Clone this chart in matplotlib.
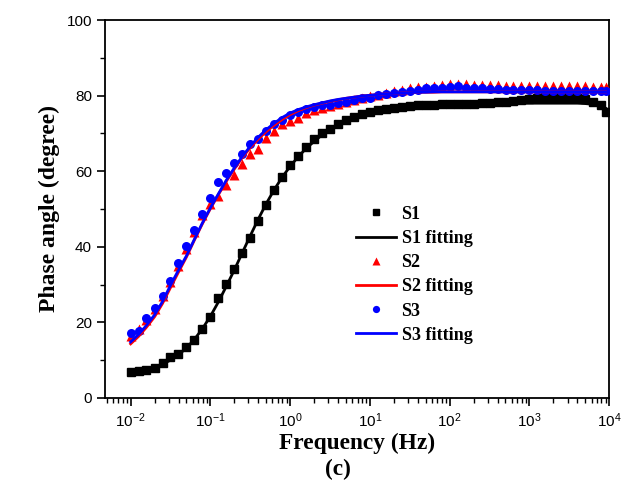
import numpy as np
import matplotlib
matplotlib.use("Agg")
import matplotlib.pyplot as plt
from matplotlib.ticker import LogLocator, MultipleLocator, NullFormatter, FixedLocator

plt.rcParams['mathtext.fontset'] = 'custom'
plt.rcParams['mathtext.rm'] = 'Liberation Sans'
plt.rcParams['mathtext.it'] = 'Liberation Sans:italic'
plt.rcParams['mathtext.bf'] = 'Liberation Sans:bold'

# Frequencies: 10 points per decade, 0.01 Hz to ~9 kHz
mantissa = [1.0, 1.26, 1.58, 2.0, 2.51, 3.16, 3.98, 5.01, 6.31, 7.94]
freq = [m * 10.0 ** e for e in range(-2, 4) for m in mantissa] + [9000.0]

xtick_vals = [1e-2, 1e-1, 1e0, 1e1, 1e2, 1e3, 1e4]
xtick_labels = ['$10^{-2}$', '$10^{-1}$', '$10^{0}$', '$10^{1}$', '$10^{2}$', '$10^{3}$', '$10^{4}$']

s1 = [6.9, 7.1, 7.4, 8.0, 9.2, 10.7, 11.7, 13.4, 15.3, 18.2,
      21.3, 26.5, 30.2, 34.1, 38.3, 42.4, 46.8, 51.1, 55.0, 58.4,
      61.6, 64.0, 66.5, 68.5, 70.0, 71.3, 72.5, 73.5, 74.4, 75.1,
      75.7, 76.1, 76.5, 76.8, 77.1, 77.3, 77.4, 77.5, 77.6, 77.7,
      77.7, 77.8, 77.9, 77.9, 78.0, 78.1, 78.2, 78.3, 78.5, 78.8,
      79.1, 79.3, 79.6, 79.7, 79.7, 79.7, 79.5, 79.2, 78.3, 77.6, 75.8]
s1_fit = [6.9, 7.1, 7.5, 8.1, 8.9, 10.0, 11.4, 13.2, 15.5, 18.3,
          21.6, 25.4, 29.5, 33.9, 38.4, 42.9, 47.3, 51.4, 55.1, 58.4,
          61.3, 63.8, 66.0, 67.9, 69.6, 71.0, 72.2, 73.2, 74.1, 74.8,
          75.4, 75.9, 76.3, 76.7, 77.0, 77.2, 77.4, 77.5, 77.6, 77.7,
          77.8, 77.8, 77.8, 77.9, 77.9, 77.9, 77.9, 78.0, 78.0, 78.0,
          78.0, 78.0, 78.0, 78.0, 78.0, 78.0, 78.0, 77.9, 77.7, 77.3, 76.7]
s2 = [16.3, 18.3, 20.6, 23.5, 27.0, 30.8, 35.0, 39.5, 44.0, 48.3,
      51.2, 53.4, 56.3, 59.0, 61.9, 64.5, 66.0, 68.7, 70.7, 72.5,
      73.3, 74.2, 75.3, 76.2, 76.8, 77.3, 77.8, 78.3, 78.8, 79.3,
      79.8, 80.3, 80.7, 81.2, 81.6, 81.9, 82.2, 82.4, 82.6, 82.8,
      83.0, 83.1, 83.0, 82.9, 82.8, 82.7, 82.7, 82.6, 82.6, 82.5,
      82.5, 82.5, 82.5, 82.5, 82.5, 82.5, 82.5, 82.5, 82.4, 82.4, 82.4]
s2_fit = [14.3, 16.3, 18.7, 21.5, 25.0, 29.2, 33.3, 37.3, 41.8, 46.1,
          50.1, 53.8, 57.3, 60.6, 63.6, 66.2, 68.5, 70.5, 72.2, 73.7,
          75.0, 76.0, 76.8, 77.5, 78.0, 78.5, 78.9, 79.3, 79.6, 79.9,
          80.1, 80.3, 80.5, 80.6, 80.7, 80.8, 80.9, 80.9, 80.9, 81.0,
          81.0, 81.0, 81.0, 81.0, 81.0, 81.0, 81.0, 81.0, 81.0, 81.0,
          81.0, 81.0, 81.0, 81.0, 81.0, 81.0, 81.0, 81.0, 81.0, 81.0, 81.0]
s3 = [17.1, 17.6, 21.2, 23.7, 27.0, 31.0, 35.8, 40.2, 44.4, 48.8,
      53.0, 57.2, 59.4, 62.3, 64.6, 67.3, 68.5, 70.6, 72.6, 73.5,
      74.9, 75.7, 76.4, 77.0, 77.4, 77.6, 78.1, 78.3, 78.8, 79.3,
      79.4, 80.2, 80.4, 80.6, 81.0, 81.3, 81.6, 81.9, 82.0, 82.1,
      82.2, 82.6, 82.1, 82.0, 81.9, 81.8, 81.7, 81.6, 81.6, 81.5,
      81.5, 81.4, 81.3, 81.3, 81.2, 81.2, 81.2, 81.2, 81.1, 81.1, 81.1]
s3_fit = [14.8, 16.8, 19.2, 22.0, 25.5, 29.8, 33.8, 37.6, 42.0, 46.3,
          50.3, 54.0, 57.6, 60.9, 63.9, 66.6, 69.0, 71.0, 72.7, 74.2,
          75.4, 76.3, 77.0, 77.6, 78.1, 78.6, 79.0, 79.3, 79.6, 79.9,
          80.1, 80.3, 80.5, 80.6, 80.7, 80.8, 80.9, 80.9, 81.0, 81.0,
          81.0, 81.0, 81.0, 81.0, 81.0, 81.0, 81.0, 81.0, 81.0, 81.0,
          81.0, 81.0, 81.0, 81.0, 81.0, 81.0, 81.0, 81.0, 81.0, 81.0, 81.0]

fig = plt.figure(figsize=(6.3, 4.9), dpi=100)
ax = fig.add_axes([0.167, 0.188, 0.800, 0.771])

serif = 'Liberation Serif'
sans = 'Liberation Sans'

ax.plot(freq, s1, 's', color='black', ms=5.5, label='S1', zorder=3)
ax.plot(freq, s1_fit, '-', color='black', lw=2, label='S1 fitting', zorder=4)
ax.plot(freq, s2, '^', color='red', ms=7, mec='none', label='S2', zorder=3)
ax.plot(freq, s2_fit, '-', color='red', lw=2, label='S2 fitting', zorder=4)
ax.plot(freq, s3, 'o', color='blue', ms=6.5, mec='none', label='S3', zorder=3)
ax.plot(freq, s3_fit, '-', color='blue', lw=2, label='S3 fitting', zorder=4)

ax.set_xscale('log')
ax.set_xlim(0.0048, 1e4)
ax.set_ylim(0, 100)
ax.yaxis.set_major_locator(MultipleLocator(20))
ax.yaxis.set_minor_locator(MultipleLocator(10))
ax.xaxis.set_major_locator(FixedLocator(xtick_vals))
ax.set_xticklabels(xtick_labels)
ax.xaxis.set_minor_locator(LogLocator(base=10, subs=np.arange(2, 10), numticks=100))
ax.xaxis.set_minor_formatter(NullFormatter())

ax.tick_params(axis='both', which='major', direction='out', length=6, width=1.2,
               labelsize=11, top=False, right=False)
ax.tick_params(axis='both', which='minor', direction='out', length=3.5, width=1.0,
               top=False, right=False)
for lab in ax.get_yticklabels():
    lab.set_fontfamily(sans)
for sp in ax.spines.values():
    sp.set_linewidth(1.3)

ax.set_xlabel('Frequency (Hz)', fontfamily=serif, fontweight='bold', fontsize=16.8, labelpad=2)
ax.set_ylabel('Phase angle (degree)', fontfamily=serif, fontweight='bold', fontsize=17, labelpad=5)
fig.text(0.536, 0.031, '(c)', fontfamily=serif, fontweight='bold', fontsize=16.8, ha='center')

leg = ax.legend(loc='upper left', bbox_to_anchor=(0.484, 0.528), frameon=False,
                prop={'family': serif, 'weight': 'bold', 'size': 13},
                handlelength=2.2, handletextpad=0.3, labelspacing=0.4, borderaxespad=0,
                markerscale=0.8)

fig.savefig('out.png', dpi=100)
